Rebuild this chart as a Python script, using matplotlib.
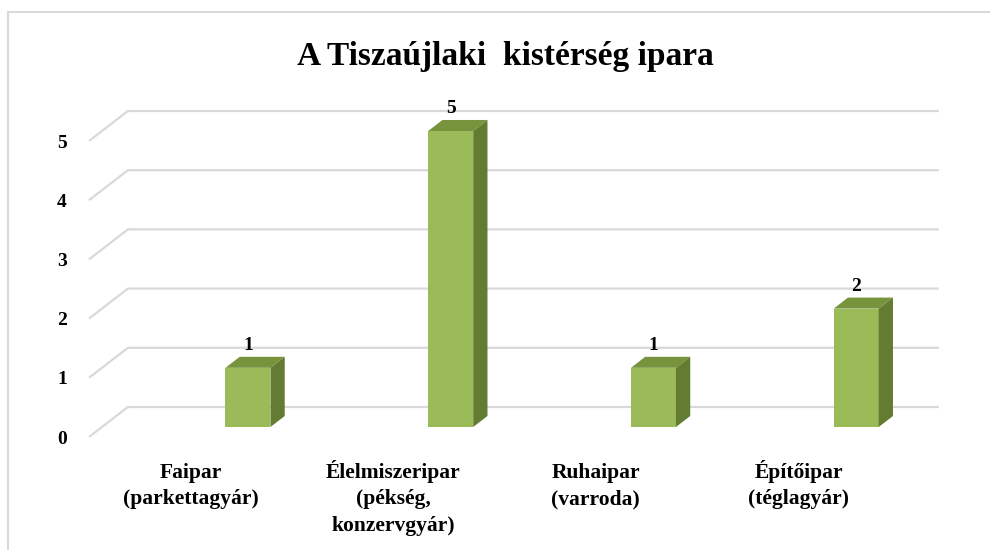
import matplotlib
matplotlib.use('Agg')
import matplotlib.pyplot as plt
from matplotlib.patches import Polygon, Rectangle

categories = ['Faipar\n(parkettagyár)', 'Élelmiszeripar\n(pékség,\nkonzervgyár)',
              'Ruhaipar\n(varroda)', 'Építőipar\n(téglagyár)']
values = [1, 5, 1, 2]
yticks = [0, 1, 2, 3, 4, 5]
title = 'A Tiszaújlaki  kistérség ipara'

serif = 'Liberation Serif'
front_c = '#9BBB59'
top_c = '#77943D'
side_c = '#637C31'
grid_c = '#D9D9D9'

# 3d look: depth of the floor in data units
DX, DY = 0.192, 0.507
bar_w = 0.222
bar_off = 0.22
f0, f1 = 0.333, 0.70  # bar front / back depth fractions

fig = plt.figure(figsize=(9.9, 5.5), dpi=100)
fig.patches.append(Rectangle((8 / 990, -0.1), 1.2, 1 - 12 / 550 + 0.1, transform=fig.transFigure,
                             fill=False, edgecolor='#D9D9D9', linewidth=1.5))

ax = fig.add_axes([89 / 990, (550 - 437) / 550, 811 / 990, 5.6 * 59.2 / 550])
ax.set_xlim(-0.5, 3.5)
ax.set_ylim(0, 5.6)
for s in ax.spines.values():
    s.set_visible(False)

# gridlines: front diagonal + back wall line
for v in yticks:
    ax.plot([-0.5, -0.5 + DX, 3.5 + DX], [v, v + DY, v + DY], color=grid_c, lw=1.6,
            clip_on=False, zorder=1, solid_capstyle='butt')

for i, v in enumerate(values):
    xc = i + bar_off + f0 * DX
    b0 = f0 * DY
    ax.bar(xc, v, width=bar_w, bottom=b0, color=front_c, zorder=3, clip_on=False)
    x0, x1 = xc - bar_w / 2, xc + bar_w / 2
    ddx, ddy = (f1 - f0) * DX, (f1 - f0) * DY
    top = b0 + v
    ax.add_patch(Polygon([(x0, top), (x1, top), (x1 + ddx, top + ddy), (x0 + ddx, top + ddy)],
                         closed=True, facecolor=top_c, edgecolor='none', zorder=3, clip_on=False))
    ax.add_patch(Polygon([(x1, b0), (x1 + ddx, b0 + ddy), (x1 + ddx, top + ddy), (x1, top)],
                         closed=True, facecolor=side_c, edgecolor='none', zorder=3, clip_on=False))
    ax.text(xc, top + ddy + 0.05, str(v), ha='center', va='bottom', fontsize=14,
            fontweight='bold', family=serif, zorder=4)

ax.set_yticks(yticks)
ax.set_yticklabels([str(t) for t in yticks], fontsize=14, fontweight='bold', family=serif)
ax.tick_params(axis='y', length=0, pad=16)
ax.set_xticks([])

# category labels, one text per line so the baselines line up
for i, lab in enumerate(categories):
    for k, line in enumerate(lab.split('\n')):
        ax.annotate(line, xy=(i, 0), xycoords=('data', 'axes fraction'),
                    xytext=(0, -29.5 - k * 19), textcoords='offset points',
                    ha='center', va='baseline', fontsize=15.5, fontweight='bold', family=serif)

fig.text(505 / 990, 1 - 57 / 550, title, ha='center', va='center', fontsize=24,
         fontweight='bold', family=serif)

fig.savefig('out.png', dpi=100)
